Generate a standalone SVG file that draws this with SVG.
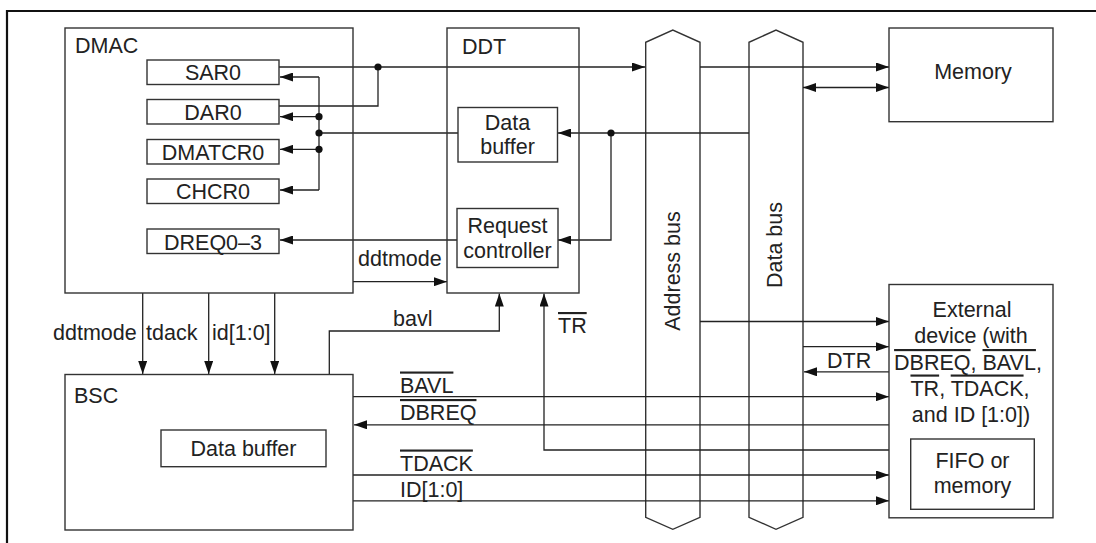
<svg xmlns="http://www.w3.org/2000/svg" width="1096" height="543" viewBox="0 0 1096 543">
<style>
text{font-family:"Liberation Sans",Arial,sans-serif;font-size:21.5px;fill:#222}
.box{fill:none;stroke:#333;stroke-width:1.4}
.bus{fill:none;stroke:#333;stroke-width:1.4}
.ln{fill:none;stroke:#222;stroke-width:1.3}
.ar{marker-end:url(#ah)}
.ol{text-decoration:overline}
.mid{text-anchor:middle}
.dot{fill:#111}
</style>
<defs>
<marker id="ah" viewBox="0 0 13 9" refX="13" refY="4.5" markerWidth="13" markerHeight="9" markerUnits="userSpaceOnUse" orient="auto-start-reverse">
<path d="M0,0 L13,4.5 L0,9 z" fill="#111"/>
</marker>
</defs>
<rect width="1096" height="543" fill="#fff"/>
<path d="M7,543 V11 H1096" fill="none" stroke="#111" stroke-width="2.2"/>

<g id="address-bus">
<path class="bus" d="M645.7,517.3 V42.3 L672.8,30 L700,42.3 V517.3 L672.8,529.3 Z"/>
<text transform="translate(680,271) rotate(-90)" class="mid">Address bus</text>
</g>
<g id="data-bus">
<path class="bus" d="M749,517.3 V42.3 L776,30 L803,42.3 V517.3 L776,529.3 Z"/>
<text transform="translate(782,245) rotate(-90)" class="mid">Data bus</text>
</g>

<g id="connectors">
<path class="ln ar" d="M279,67 H645"/>
<path class="ln" d="M279,106 H378 V67"/>
<path class="ln ar" d="M700,67 H889"/>
<path class="ln ar" d="M803,87.5 H889" style="marker-start:url(#ah)"/>
<path class="ln ar" d="M749,133 H558"/>
<path class="ln ar" d="M611,133 V240 H558"/>
<path class="ln" d="M458,133 H319"/>
<path class="ln" d="M319,77 V190"/>
<path class="ln ar" d="M319,77 H280"/>
<path class="ln ar" d="M319,116.7 H280"/>
<path class="ln ar" d="M319,149.3 H280"/>
<path class="ln ar" d="M319,190 H280"/>
<path class="ln ar" d="M457,240 H280"/>
<path class="ln ar" d="M353,281.7 H447"/>
<path class="ln ar" d="M142.7,293 V374"/>
<path class="ln ar" d="M208.7,293 V374"/>
<path class="ln ar" d="M274.7,293 V374"/>
<path class="ln ar" d="M329.3,374 V331 H499.3 V293.5"/>
<path class="ln ar" d="M889,450 H544 V293.5"/>
<path class="ln ar" d="M700,321.5 H889"/>
<path class="ln ar" d="M803,346.7 H889"/>
<path class="ln ar" d="M889,371.8 H804"/>
<path class="ln ar" d="M353,396.7 H889"/>
<path class="ln ar" d="M889,424.8 H354"/>
<path class="ln ar" d="M353,475 H889"/>
<path class="ln ar" d="M353,500.8 H889"/>
<circle class="dot" cx="378" cy="67" r="3.6"/>
<circle class="dot" cx="319" cy="116.7" r="3.6"/>
<circle class="dot" cx="319" cy="133" r="3.6"/>
<circle class="dot" cx="319" cy="149.3" r="3.6"/>
<circle class="dot" cx="611" cy="133" r="3.6"/>
<text x="358" y="266">ddtmode</text>
<text x="53" y="340">ddtmode</text>
<text x="146" y="340">tdack</text>
<text x="212" y="340">id[1:0]</text>
<text x="393" y="326">bavl</text>
<text x="558" y="333" class="ol">TR</text>
<text x="400" y="392.5" class="ol">BAVL</text>
<text x="400" y="420" class="ol">DBREQ</text>
<text x="400" y="470.5" class="ol">TDACK</text>
<text x="400" y="496.5">ID[1:0]</text>
<text x="827" y="368">DTR</text>
</g>

<g id="dmac">
<rect class="box" x="65" y="28" width="288" height="265"/>
<text x="75" y="53">DMAC</text>
</g>
<g id="sar0">
<rect class="box" x="147" y="60" width="132" height="24.5"/>
<text x="213" y="80" class="mid">SAR0</text>
</g>
<g id="dar0">
<rect class="box" x="147" y="99.5" width="132" height="24.5"/>
<text x="213" y="119.5" class="mid">DAR0</text>
</g>
<g id="dmatcr0">
<rect class="box" x="147" y="139.5" width="132" height="24.5"/>
<text x="213" y="159.5" class="mid">DMATCR0</text>
</g>
<g id="chcr0">
<rect class="box" x="147" y="179" width="132" height="24.5"/>
<text x="213" y="199" class="mid">CHCR0</text>
</g>
<g id="dreq">
<rect class="box" x="147" y="229" width="132" height="24.5"/>
<text x="213" y="249.5" class="mid">DREQ0–3</text>
</g>

<g id="ddt">
<rect class="box" x="447" y="28" width="132" height="265"/>
<text x="462" y="54">DDT</text>
</g>
<g id="ddt-buffer">
<rect class="box" x="458" y="107.5" width="99.5" height="54.5"/>
<text x="507.5" y="130" class="mid">Data</text>
<text x="507.5" y="154" class="mid">buffer</text>
</g>
<g id="request-controller">
<rect class="box" x="457" y="208.5" width="101" height="59"/>
<text x="507.5" y="233" class="mid">Request</text>
<text x="507.5" y="258" class="mid">controller</text>
</g>

<g id="bsc">
<rect class="box" x="65" y="374.5" width="288" height="155.5"/>
<text x="74" y="403">BSC</text>
</g>
<g id="bsc-buffer">
<rect class="box" x="161" y="430" width="165" height="36.7"/>
<text x="243.5" y="456" class="mid">Data buffer</text>
</g>

<g id="memory">
<rect class="box" x="889" y="28" width="164" height="93.7"/>
<text x="973" y="79" class="mid">Memory</text>
</g>
<g id="external">
<rect class="box" x="889" y="284.5" width="164" height="233.3"/>
<text x="972" y="317" class="mid">External</text>
<text x="971" y="343" class="mid">device (with</text>
<text x="968" y="370" class="mid"><tspan class="ol">DBREQ</tspan>, <tspan class="ol">BAVL</tspan>,</text>
<text x="970" y="395.5" class="mid"><tspan class="ol">TR</tspan>, <tspan class="ol">TDACK</tspan>,</text>
<text x="971" y="421.5" class="mid">and ID [1:0])</text>
</g>
<g id="fifo">
<rect class="box" x="910.7" y="439" width="123.6" height="70.3"/>
<text x="972.5" y="467.5" class="mid">FIFO or</text>
<text x="972.5" y="492.5" class="mid">memory</text>
</g>
</svg>
